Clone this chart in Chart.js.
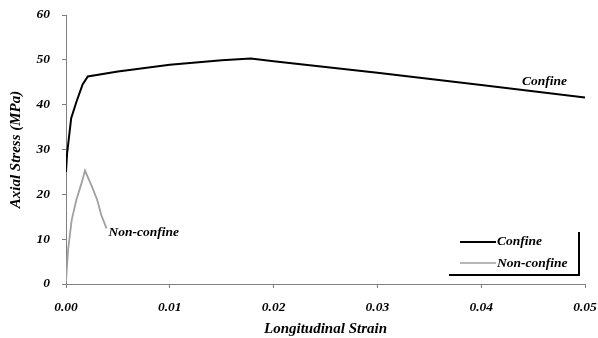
<!doctype html>
<html lang="en">
<head>
	<meta charset="utf-8">
	<title>Axial Stress vs Longitudinal Strain</title>
	<style>
		html, body { margin: 0; padding: 0; background: #fff; }
		#stressChart { display: block; }
	</style>
</head>
<body>
	<canvas id="stressChart" width="598" height="338"></canvas>
	<script src="https://cdn.jsdelivr.net/npm/chart.js@4/dist/chart.umd.min.js"></script>
	<script>
		// values
		var confineStrain = [0, 0.0001, 0.0005, 0.001, 0.0016, 0.0021, 0.005, 0.01, 0.015, 0.0178, 0.02, 0.03, 0.04, 0.05];
		var confineStress = [25, 29, 37, 40.6, 44.5, 46.3, 47.4, 48.9, 49.9, 50.3, 49.7, 47.1, 44.4, 41.6];
		var nonConfineStrain = [0, 0.0002, 0.00055, 0.001, 0.0015, 0.00183, 0.0025, 0.003, 0.0034, 0.0039];
		var nonConfineStress = [0.5, 7.6, 14.3, 18.8, 22.5, 25.3, 21.7, 18.8, 15.4, 12.4];
		var yTicks = [0, 10, 20, 30, 40, 50, 60];
		var xTicks = [0, 0.01, 0.02, 0.03, 0.04, 0.05];
		var seriesNames = ["Confine", "Non-confine"];

		var serifFont = "'Liberation Serif', 'DejaVu Serif', serif";

		function toPoints(xs, ys)
		{
			return xs.map(function(x, i) { return { x: x, y: ys[i] }; });
		}

		// curve labels and the legend box of the original figure
		var labelPlugin = {
			id: 'labels',
			afterDraw: function(chart)
			{
				var ctx = chart.ctx;
				var xs = chart.scales.x;
				var ys = chart.scales.y;
				ctx.save();
				ctx.font = 'italic bold 13.5px ' + serifFont;
				ctx.fillStyle = '#000';
				ctx.textBaseline = 'middle';

				ctx.textAlign = 'center';
				ctx.fillText(seriesNames[0], xs.getPixelForValue(0.0461), ys.getPixelForValue(45.1));
				ctx.textAlign = 'left';
				ctx.fillText(seriesNames[1], xs.getPixelForValue(0.0041), ys.getPixelForValue(11.4));

				// legend
				ctx.lineWidth = 2;
				ctx.strokeStyle = '#000';
				ctx.beginPath();
				ctx.moveTo(460, 242);
				ctx.lineTo(496, 242);
				ctx.stroke();
				ctx.strokeStyle = '#a0a0a0';
				ctx.lineWidth = 1.5;
				ctx.beginPath();
				ctx.moveTo(460, 263);
				ctx.lineTo(496, 263);
				ctx.stroke();
				ctx.fillText(seriesNames[0], 497, 242);
				ctx.fillText(seriesNames[1], 497, 264);

				ctx.lineWidth = 2;
				ctx.strokeStyle = '#000';
				ctx.beginPath();
				ctx.moveTo(579, 232);
				ctx.lineTo(579, 275);
				ctx.lineTo(449, 275);
				ctx.stroke();
				ctx.restore();
			}
		};

		var stressChart = new Chart(
			"stressChart",
			{
				type: 'scatter',
				data: {
					datasets: [
						{
							label: seriesNames[0],
							data: toPoints(confineStrain, confineStress),
							showLine: true,
							borderColor: '#000',
							borderWidth: 2,
							pointRadius: 0,
							tension: 0
						},
						{
							label: seriesNames[1],
							data: toPoints(nonConfineStrain, nonConfineStress),
							showLine: true,
							borderColor: '#a0a0a0',
							borderWidth: 1.8,
							pointRadius: 0,
							tension: 0
						}]
				},
				options: {
					responsive: false,
					animation: false,
					layout: { padding: { top: 15, right: 13, left: 0, bottom: 0 } },
					plugins: {
						legend: { display: false },
						tooltip: { enabled: false }
					},
					scales: {
						x: {
							type: 'linear',
							min: 0,
							max: 0.05,
							afterBuildTicks: function(axis) { axis.ticks = xTicks.map(function(v) { return { value: v }; }); },
							afterFit: function(axis)
							{
								axis.height = 54;
								axis.paddingLeft = 0;
								axis.paddingRight = 0;
							},
							border: { color: '#808080', width: 1 },
							grid: { drawOnChartArea: false, drawTicks: true, tickLength: 4, color: '#808080' },
							ticks: {
								color: '#000',
								padding: 11,
								font: { family: serifFont, size: 13.5, style: 'italic', weight: 'bold' },
								callback: function(v) { return v.toFixed(2); }
							},
							title: {
								display: true,
								text: 'Longitudinal Strain',
								color: '#000',
								padding: { top: 3, bottom: 0 },
								font: { family: serifFont, size: 15, style: 'italic', weight: 'bold' }
							}
						},
						y: {
							min: 0,
							max: 60,
							afterBuildTicks: function(axis) { axis.ticks = yTicks.map(function(v) { return { value: v }; }); },
							afterFit: function(axis)
							{
								axis.width = 66;
								axis.paddingTop = 0;
								axis.paddingBottom = 0;
							},
							border: { color: '#808080', width: 1 },
							grid: { drawOnChartArea: false, drawTicks: true, tickLength: 4, color: '#808080' },
							ticks: {
								color: '#000',
								padding: 12,
								font: { family: serifFont, size: 13.5, style: 'italic', weight: 'bold' }
							},
							title: {
								display: true,
								text: 'Axial Stress (MPa)',
								color: '#000',
								padding: { top: 7, bottom: 3 },
								font: { family: serifFont, size: 15, style: 'italic', weight: 'bold' }
							}
						}
					}
				},
				plugins: [labelPlugin]
			});
	</script>
</body>
</html>
